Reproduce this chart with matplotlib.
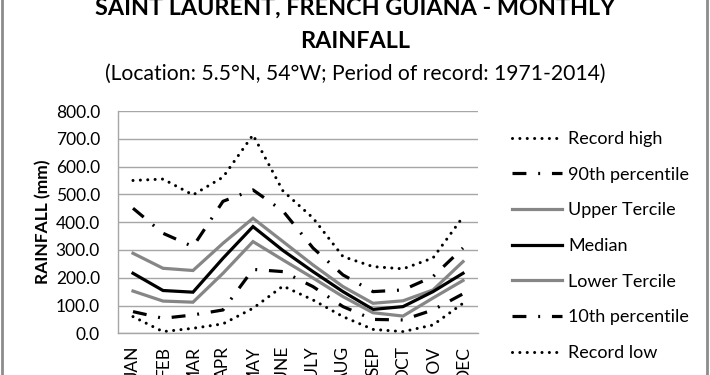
import matplotlib
matplotlib.use('Agg')
import matplotlib.pyplot as plt
from matplotlib.lines import Line2D

# Monthly rainfall statistics (mm)
months = ['JAN', 'FEB', 'MAR', 'APR', 'MAY', 'JUNE', 'JULY', 'AUG', 'SEP', 'OCT', 'NOV', 'DEC']
record_high = [550, 555, 498, 562, 714, 512, 415, 276, 240, 232, 271, 419]
pct_90 = [450, 360, 312, 475, 516, 440, 307, 210, 150, 156, 204, 307]
upper_tercile = [288, 234, 226, 324, 414, 330, 246, 168, 108, 117, 156, 258]
median = [216, 154, 148, 270, 384, 298, 222, 150, 86, 96, 150, 216]
lower_tercile = [152, 116, 112, 216, 330, 264, 199, 132, 74, 62, 127, 190]
pct_10 = [78, 54, 66, 84, 230, 222, 168, 96, 50, 48, 84, 142]
record_low = [60, 6, 18, 34, 90, 170, 120, 60, 14, 6, 30, 108]
yticks = [0, 100, 200, 300, 400, 500, 600, 700, 800]

plt.rcParams['font.family'] = ['Lato', 'DejaVu Sans']
plt.rcParams['lines.scale_dashes'] = False

fig = plt.figure(figsize=(7.1, 3.75), dpi=100)
ax = fig.add_axes([118 / 710, 1 - 333.3 / 375, 360 / 710, 222.3 / 375])

x = list(range(len(months)))
dotted = (0, (0.01, 5.3))
dashdot = (0, (10, 8.5, 1.4, 8.5))
series = [
    ('Record high', record_high, 'black', dotted, 2.2, 'round'),
    ('90th percentile', pct_90, 'black', dashdot, 2.3, 'butt'),
    ('Upper Tercile', upper_tercile, '#868686', '-', 2.3, 'butt'),
    ('Median', median, 'black', '-', 2.3, 'butt'),
    ('Lower Tercile', lower_tercile, '#868686', '-', 2.3, 'butt'),
    ('10th percentile', pct_10, 'black', dashdot, 2.3, 'butt'),
    ('Record low', record_low, 'black', dotted, 2.2, 'round'),
]
for label, vals, col, ls, lw, cap in series:
    ax.plot(x, vals, color=col, linestyle=ls, linewidth=lw, label=label,
            dash_capstyle=cap, solid_joinstyle='miter')

ax.set_xlim(-0.5, len(months) - 0.5)
ax.set_ylim(0, 800)
ax.set_yticks(yticks)
ax.set_yticklabels([f'{v:.1f}' for v in yticks])
ax.set_xticks(x)
ax.set_xticklabels(months, rotation=90, va='top', ha='center')
ax.tick_params(axis='y', length=0, pad=13, labelsize=12.5)
ax.tick_params(axis='x', length=0, pad=9, labelsize=12.5)
ax.grid(axis='y', color='#a6a6a6', linewidth=1)
ax.set_axisbelow(True)
for s in ['top', 'right']:
    ax.spines[s].set_visible(False)
for s in ['left', 'bottom']:
    ax.spines[s].set_color('#a6a6a6')
    ax.spines[s].set_linewidth(1)
ax.set_ylabel('RAINFALL (mm)', fontsize=12.5, fontweight='bold', labelpad=3)

fig.text(0.5, 1 - 8 / 375, 'SAINT LAURENT, FRENCH GUIANA - MONTHLY', ha='center', va='center',
         fontsize=16.8, fontweight='bold')
fig.text(0.5, 1 - 42 / 375, 'RAINFALL', ha='center', va='center', fontsize=16.8, fontweight='bold')
fig.text(0.5, 1 - 74 / 375, '(Location: 5.5°N, 54°W; Period of record: 1971-2014)', ha='center',
         va='center', fontsize=15.2)

fig.legend(loc='upper left', bbox_to_anchor=(512 / 710, 1 - 131 / 375), frameon=False,
           fontsize=13, handlelength=2.75, handletextpad=0.35, labelspacing=1.09,
           borderpad=0, borderaxespad=0)

# outer chart border
fig.add_artist(Line2D([2 / 710, 2 / 710], [0, 1], color='#8c8c8c', linewidth=2))
fig.add_artist(Line2D([707 / 710, 707 / 710], [0, 1], color='#8c8c8c', linewidth=2))

fig.savefig('out.png', dpi=100)
